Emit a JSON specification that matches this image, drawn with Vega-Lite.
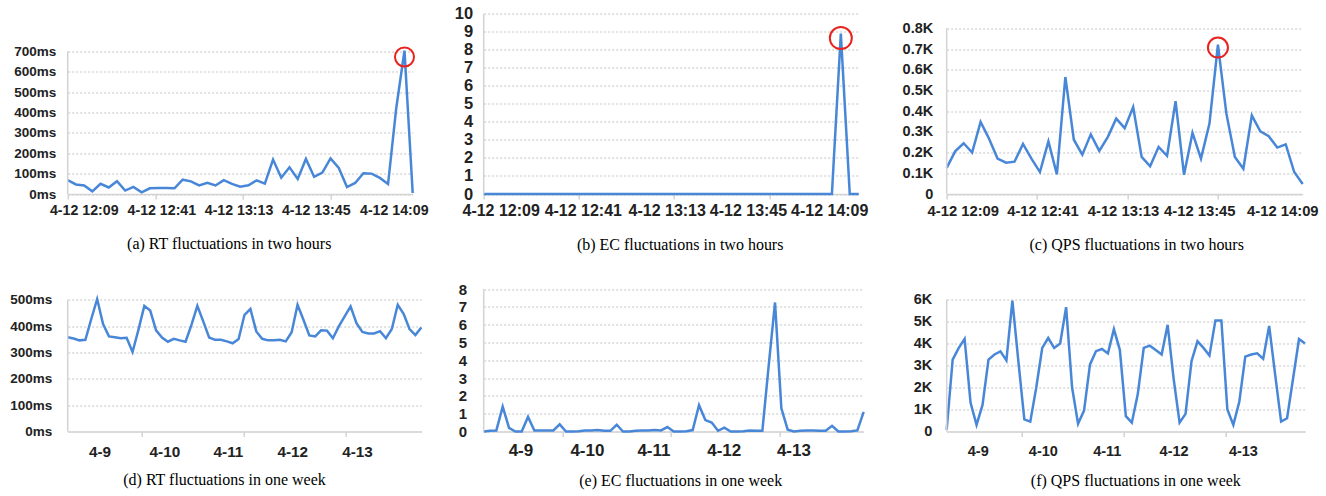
{
"$schema": "https://vega.github.io/schema/vega-lite/v6.json",
"padding": {"left": 8.7, "top": 5.5, "right": 0, "bottom": 0},
"background": "white",
"config": {
  "view": {"stroke": null},
  "axis": {"labelFont": "Liberation Sans", "labelFontWeight": "bold", "labelColor": "#222", "title": null, "tickCount": 40, "labelOverlap": false, "labelFlush": false, "gridColor": "#c4c4c4", "gridDash": [2, 2], "gridWidth": 1},
  "title": {"font": "Liberation Serif", "fontSize": 16, "fontWeight": "normal", "color": "#000", "orient": "bottom", "anchor": "middle", "frame": "group", "offset": 19}
},
"datasets": {
  "rtH": [{"i":0,"v":68},{"i":1,"v":47},{"i":2,"v":42},{"i":3,"v":13},{"i":4,"v":50},{"i":5,"v":32},{"i":6,"v":63},{"i":7,"v":17},{"i":8,"v":35},{"i":9,"v":8},{"i":10,"v":28},{"i":11,"v":30},{"i":12,"v":30},{"i":13,"v":28},{"i":14,"v":70},{"i":15,"v":62},{"i":16,"v":42},{"i":17,"v":55},{"i":18,"v":42},{"i":19,"v":68},{"i":20,"v":50},{"i":21,"v":36},{"i":22,"v":43},{"i":23,"v":67},{"i":24,"v":51},{"i":25,"v":169},{"i":26,"v":80},{"i":27,"v":131},{"i":28,"v":74},{"i":29,"v":172},{"i":30,"v":84},{"i":31,"v":105},{"i":32,"v":175},{"i":33,"v":128},{"i":34,"v":34},{"i":35,"v":54},{"i":36,"v":102},{"i":37,"v":100},{"i":38,"v":79},{"i":39,"v":49},{"i":40,"v":422},{"i":41,"v":703},{"i":42,"v":5}],
  "ecH": [{"i":0,"v":0},{"i":1,"v":0},{"i":2,"v":0},{"i":3,"v":0},{"i":4,"v":0},{"i":5,"v":0},{"i":6,"v":0},{"i":7,"v":0},{"i":8,"v":0},{"i":9,"v":0},{"i":10,"v":0},{"i":11,"v":0},{"i":12,"v":0},{"i":13,"v":0},{"i":14,"v":0},{"i":15,"v":0},{"i":16,"v":0},{"i":17,"v":0},{"i":18,"v":0},{"i":19,"v":0},{"i":20,"v":0},{"i":21,"v":0},{"i":22,"v":0},{"i":23,"v":0},{"i":24,"v":0},{"i":25,"v":0},{"i":26,"v":0},{"i":27,"v":0},{"i":28,"v":0},{"i":29,"v":0},{"i":30,"v":0},{"i":31,"v":0},{"i":32,"v":0},{"i":33,"v":0},{"i":34,"v":0},{"i":35,"v":0},{"i":36,"v":0},{"i":37,"v":0},{"i":38,"v":0},{"i":39,"v":0},{"i":40,"v":8.9},{"i":41,"v":0},{"i":42,"v":0}],
  "qpsH": [{"i":0,"v":126},{"i":1,"v":206},{"i":2,"v":245},{"i":3,"v":200},{"i":4,"v":348},{"i":5,"v":267},{"i":6,"v":171},{"i":7,"v":151},{"i":8,"v":156},{"i":9,"v":242},{"i":10,"v":171},{"i":11,"v":106},{"i":12,"v":254},{"i":13,"v":95},{"i":14,"v":565},{"i":15,"v":262},{"i":16,"v":190},{"i":17,"v":288},{"i":18,"v":208},{"i":19,"v":275},{"i":20,"v":364},{"i":21,"v":318},{"i":22,"v":420},{"i":23,"v":179},{"i":24,"v":134},{"i":25,"v":227},{"i":26,"v":184},{"i":27,"v":448},{"i":28,"v":93},{"i":29,"v":295},{"i":30,"v":171},{"i":31,"v":340},{"i":32,"v":721},{"i":33,"v":388},{"i":34,"v":179},{"i":35,"v":122},{"i":36,"v":380},{"i":37,"v":303},{"i":38,"v":279},{"i":39,"v":224},{"i":40,"v":240},{"i":41,"v":106},{"i":42,"v":48}],
  "rtW": [{"i":0,"v":358},{"i":1,"v":353},{"i":2,"v":346},{"i":3,"v":348},{"i":4,"v":427},{"i":5,"v":503},{"i":6,"v":408},{"i":7,"v":361},{"i":8,"v":358},{"i":9,"v":354},{"i":10,"v":356},{"i":11,"v":302},{"i":12,"v":386},{"i":13,"v":477},{"i":14,"v":459},{"i":15,"v":384},{"i":16,"v":357},{"i":17,"v":341},{"i":18,"v":352},{"i":19,"v":346},{"i":20,"v":341},{"i":21,"v":405},{"i":22,"v":477},{"i":23,"v":418},{"i":24,"v":357},{"i":25,"v":348},{"i":26,"v":348},{"i":27,"v":342},{"i":28,"v":335},{"i":29,"v":351},{"i":30,"v":443},{"i":31,"v":465},{"i":32,"v":380},{"i":33,"v":352},{"i":34,"v":346},{"i":35,"v":346},{"i":36,"v":348},{"i":37,"v":342},{"i":38,"v":377},{"i":39,"v":481},{"i":40,"v":424},{"i":41,"v":365},{"i":42,"v":361},{"i":43,"v":384},{"i":44,"v":383},{"i":45,"v":354},{"i":46,"v":399},{"i":47,"v":437},{"i":48,"v":475},{"i":49,"v":411},{"i":50,"v":378},{"i":51,"v":372},{"i":52,"v":372},{"i":53,"v":381},{"i":54,"v":354},{"i":55,"v":389},{"i":56,"v":481},{"i":57,"v":447},{"i":58,"v":389},{"i":59,"v":366},{"i":60,"v":395}],
  "ecW": [{"i":0,"v":0},{"i":1,"v":0.04},{"i":2,"v":0.06},{"i":3,"v":1.4},{"i":4,"v":0.2},{"i":5,"v":0},{"i":6,"v":0},{"i":7,"v":0.82},{"i":8,"v":0.06},{"i":9,"v":0.06},{"i":10,"v":0.06},{"i":11,"v":0.06},{"i":12,"v":0.4},{"i":13,"v":0},{"i":14,"v":0},{"i":15,"v":0.02},{"i":16,"v":0.06},{"i":17,"v":0.06},{"i":18,"v":0.08},{"i":19,"v":0.04},{"i":20,"v":0.04},{"i":21,"v":0.38},{"i":22,"v":0},{"i":23,"v":0},{"i":24,"v":0.04},{"i":25,"v":0.06},{"i":26,"v":0.06},{"i":27,"v":0.08},{"i":28,"v":0.06},{"i":29,"v":0.25},{"i":30,"v":0},{"i":31,"v":0},{"i":32,"v":0.02},{"i":33,"v":0.08},{"i":34,"v":1.48},{"i":35,"v":0.64},{"i":36,"v":0.5},{"i":37,"v":0.04},{"i":38,"v":0.22},{"i":39,"v":0},{"i":40,"v":0},{"i":41,"v":0.02},{"i":42,"v":0.06},{"i":43,"v":0.04},{"i":44,"v":0.04},{"i":45,"v":3.7},{"i":46,"v":7.25},{"i":47,"v":1.3},{"i":48,"v":0.1},{"i":49,"v":0},{"i":50,"v":0.04},{"i":51,"v":0.06},{"i":52,"v":0.06},{"i":53,"v":0.04},{"i":54,"v":0.04},{"i":55,"v":0.32},{"i":56,"v":0},{"i":57,"v":0},{"i":58,"v":0.02},{"i":59,"v":0.06},{"i":60,"v":1.1}],
  "qpsW": [{"i":0,"v":80},{"i":1,"v":3270},{"i":2,"v":3790},{"i":3,"v":4210},{"i":4,"v":1300},{"i":5,"v":300},{"i":6,"v":1210},{"i":7,"v":3270},{"i":8,"v":3500},{"i":9,"v":3640},{"i":10,"v":3230},{"i":11,"v":5950},{"i":12,"v":3200},{"i":13,"v":550},{"i":14,"v":450},{"i":15,"v":2000},{"i":16,"v":3800},{"i":17,"v":4250},{"i":18,"v":3800},{"i":19,"v":4000},{"i":20,"v":5650},{"i":21,"v":2000},{"i":22,"v":350},{"i":23,"v":950},{"i":24,"v":3050},{"i":25,"v":3650},{"i":26,"v":3750},{"i":27,"v":3550},{"i":28,"v":4650},{"i":29,"v":3700},{"i":30,"v":700},{"i":31,"v":400},{"i":32,"v":1700},{"i":33,"v":3800},{"i":34,"v":3900},{"i":35,"v":3700},{"i":36,"v":3500},{"i":37,"v":4850},{"i":38,"v":2400},{"i":39,"v":400},{"i":40,"v":800},{"i":41,"v":3200},{"i":42,"v":4100},{"i":43,"v":3800},{"i":44,"v":3450},{"i":45,"v":5050},{"i":46,"v":5050},{"i":47,"v":1000},{"i":48,"v":300},{"i":49,"v":1350},{"i":50,"v":3400},{"i":51,"v":3500},{"i":52,"v":3550},{"i":53,"v":3300},{"i":54,"v":4800},{"i":55,"v":2600},{"i":56,"v":450},{"i":57,"v":600},{"i":58,"v":2400},{"i":59,"v":4200},{"i":60,"v":4000}],
  "markA": [{"i":41,"v":672}],
  "markB": [{"i":40,"v":8.65}],
  "markC": [{"i":32,"v":707}]
},
"bounds": "flush",
"align": "none",
"columns": 5,
"spacing": {"row": 93, "column": 0},
"concat": [
  {
    "width": 345, "height": 181.5,
    "title": {"text": "(a) RT fluctuations in two hours", "dx": -11},
    "layer": [
      {"data": {"name": "rtH"}, "mark": {"type": "line", "color": "#4887d8", "strokeWidth": 2.5},
       "encoding": {
         "x": {"field": "i", "type": "quantitative", "scale": {"domain": [0, 42], "nice": false, "zero": false},
               "axis": {"values": [0, 10.667, 21.333, 32, 1.95, 11.4, 20.8, 30.2, 39.7],
                        "labelExpr": "datum.value == 1.95 ? '4-12 12:09' : datum.value == 11.4 ? '4-12 12:41' : datum.value == 20.8 ? '4-12 13:13' : datum.value == 30.2 ? '4-12 13:45' : datum.value == 39.7 ? '4-12 14:09' : ''",
                        "tickOpacity": {"condition": {"test": "datum.value == 0 || datum.value == 10.667 || datum.value == 21.333 || datum.value == 32", "value": 1}, "value": 0},
                        "grid": false, "domainColor": "#d3d3d3", "domainWidth": 1.5, "tickColor": "#d3d3d3", "tickWidth": 1.5, "tickSize": 5, "labelPadding": 4, "labelFontSize": 14.2}},
         "y": {"field": "v", "type": "quantitative", "scale": {"domain": [0, 890.3], "nice": false},
               "axis": {"values": [0, 100, 200, 300, 400, 500, 600, 700], "labelExpr": "datum.value + 'ms'", "domain": false, "ticks": false, "grid": true, "labelPadding": 12, "labelFontSize": 13.5}}
       }},
      {"data": {"values": [{}]}, "mark": {"type": "rule", "color": "#d3d3d3", "strokeWidth": 1.5},
       "encoding": {"x": {"datum": 0, "type": "quantitative"}, "y": {"datum": 0, "type": "quantitative"}, "y2": {"datum": 700}}},
      {"data": {"name": "markA"}, "mark": {"type": "point", "shape": "circle", "filled": false, "color": "#e8231d", "strokeWidth": 2, "size": 361, "opacity": 1},
       "encoding": {"x": {"field": "i", "type": "quantitative"}, "y": {"field": "v", "type": "quantitative"}}}
    ]
  },
  {"width": 61.6, "height": 1, "data": {"values": [{}]}, "mark": {"type": "point", "opacity": 0}, "encoding": {}},
  {
    "width": 375, "height": 181.5,
    "title": {"text": "(b) EC fluctuations in two hours", "dx": 9},
    "layer": [
      {"data": {"name": "ecH"}, "mark": {"type": "line", "color": "#4887d8", "strokeWidth": 2.5},
       "encoding": {
         "x": {"field": "i", "type": "quantitative", "scale": {"domain": [0, 42], "nice": false, "zero": false},
               "axis": {"values": [0, 10.667, 21.333, 32, 1.9, 11.1, 20.5, 29.6, 38.7],
                        "labelExpr": "datum.value == 1.9 ? '4-12 12:09' : datum.value == 11.1 ? '4-12 12:41' : datum.value == 20.5 ? '4-12 13:13' : datum.value == 29.6 ? '4-12 13:45' : datum.value == 38.7 ? '4-12 14:09' : ''",
                        "tickOpacity": {"condition": {"test": "datum.value == 0 || datum.value == 10.667 || datum.value == 21.333 || datum.value == 32", "value": 1}, "value": 0},
                        "grid": false, "domainColor": "#d3d3d3", "domainWidth": 1.5, "tickColor": "#d3d3d3", "tickWidth": 1.5, "tickSize": 5, "labelPadding": 3, "labelFontSize": 16}},
         "y": {"field": "v", "type": "quantitative", "scale": {"domain": [0, 10.07], "nice": false},
               "axis": {"values": [0, 1, 2, 3, 4, 5, 6, 7, 8, 9, 10], "format": "d", "domain": false, "ticks": false, "grid": true, "labelPadding": 11, "labelFontSize": 16.5}}
       }},
      {"data": {"values": [{}]}, "mark": {"type": "rule", "color": "#d3d3d3", "strokeWidth": 1.5},
       "encoding": {"x": {"datum": 0, "type": "quantitative"}, "y": {"datum": 0, "type": "quantitative"}, "y2": {"datum": 10}}},
      {"data": {"name": "markB"}, "mark": {"type": "point", "shape": "circle", "filled": false, "color": "#e8231d", "strokeWidth": 2, "size": 484, "opacity": 1},
       "encoding": {"x": {"field": "i", "type": "quantitative"}, "y": {"field": "v", "type": "quantitative"}}}
    ]
  },
  {"width": 73, "height": 1, "data": {"values": [{}]}, "mark": {"type": "point", "opacity": 0}, "encoding": {}},
  {
    "width": 356, "height": 181.5,
    "title": {"text": "(c) QPS fluctuations in two hours", "dx": 12},
    "layer": [
      {"data": {"name": "qpsH"}, "mark": {"type": "line", "color": "#4887d8", "strokeWidth": 2.5},
       "encoding": {
         "x": {"field": "i", "type": "quantitative", "scale": {"domain": [0, 42], "nice": false, "zero": false},
               "axis": {"values": [0, 10.667, 21.333, 32, 1.9, 11.3, 20.8, 29.8, 39.6],
                        "labelExpr": "datum.value == 1.9 ? '4-12 12:09' : datum.value == 11.3 ? '4-12 12:41' : datum.value == 20.8 ? '4-12 13:13' : datum.value == 29.8 ? '4-12 13:45' : datum.value == 39.6 ? '4-12 14:09' : ''",
                        "tickOpacity": {"condition": {"test": "datum.value == 0 || datum.value == 10.667 || datum.value == 21.333 || datum.value == 32", "value": 1}, "value": 0},
                        "grid": false, "domainColor": "#d3d3d3", "domainWidth": 1.5, "tickColor": "#d3d3d3", "tickWidth": 1.5, "tickSize": 5, "labelPadding": 4, "labelFontSize": 14.8}},
         "y": {"field": "v", "type": "quantitative", "scale": {"domain": [0, 876.4], "nice": false},
               "axis": {"values": [0, 100, 200, 300, 400, 500, 600, 700, 800], "labelExpr": "datum.value == 0 ? '0' : format(datum.value / 1000, '.1f') + 'K'", "domain": false, "ticks": false, "grid": true, "labelPadding": 14, "labelFontSize": 14.5}}
       }},
      {"data": {"values": [{}]}, "mark": {"type": "rule", "color": "#d3d3d3", "strokeWidth": 1.5},
       "encoding": {"x": {"datum": 0, "type": "quantitative"}, "y": {"datum": 0, "type": "quantitative"}, "y2": {"datum": 800}}},
      {"data": {"name": "markC"}, "mark": {"type": "point", "shape": "circle", "filled": false, "color": "#e8231d", "strokeWidth": 2, "size": 400, "opacity": 1},
       "encoding": {"x": {"field": "i", "type": "quantitative"}, "y": {"field": "v", "type": "quantitative"}}}
    ]
  },
  {
    "width": 353.6, "height": 144,
    "title": {"text": "(d) RT fluctuations in one week", "dx": -20, "offset": 12},
    "layer": [
      {"data": {"name": "rtW"}, "mark": {"type": "line", "color": "#4887d8", "strokeWidth": 2.5},
       "encoding": {
         "x": {"field": "i", "type": "quantitative", "scale": {"domain": [0, 60], "nice": false, "zero": false},
               "axis": {"values": [12.6, 29.8, 47.1, 5.4, 16.4, 27.2, 38.1, 49.1],
                        "labelExpr": "datum.value == 5.4 ? '4-9' : datum.value == 16.4 ? '4-10' : datum.value == 27.2 ? '4-11' : datum.value == 38.1 ? '4-12' : datum.value == 49.1 ? '4-13' : ''",
                        "tickOpacity": {"condition": {"test": "datum.value == 12.6 || datum.value == 29.8 || datum.value == 47.1", "value": 1}, "value": 0},
                        "grid": false, "domainColor": "#d3d3d3", "domainWidth": 1.5, "tickColor": "#d3d3d3", "tickWidth": 1.5, "tickSize": 5, "labelPadding": 8, "labelFontSize": 15.3}},
         "y": {"field": "v", "type": "quantitative", "scale": {"domain": [0, 546.7], "nice": false},
               "axis": {"values": [0, 100, 200, 300, 400, 500], "labelExpr": "datum.value + 'ms'", "domain": false, "ticks": false, "grid": true, "labelPadding": 16, "labelFontSize": 13.5}}
       }},
      {"data": {"values": [{}]}, "mark": {"type": "rule", "color": "#d3d3d3", "strokeWidth": 1.5},
       "encoding": {"x": {"datum": 0, "type": "quantitative"}, "y": {"datum": 0, "type": "quantitative"}, "y2": {"datum": 500}}}
    ]
  },
  {"width": 47.5, "height": 1, "data": {"values": [{}]}, "mark": {"type": "point", "opacity": 0}, "encoding": {}},
  {
    "width": 380, "height": 144,
    "title": {"text": "(e) EC fluctuations in one week", "dx": 7, "offset": 14},
    "layer": [
      {"data": {"name": "ecW"}, "mark": {"type": "line", "color": "#4887d8", "strokeWidth": 2.5},
       "encoding": {
         "x": {"field": "i", "type": "quantitative", "scale": {"domain": [0, 60], "nice": false, "zero": false},
               "axis": {"values": [12.5, 29.6, 46.7, 5.8, 16.3, 26.8, 37.9, 48.9],
                        "labelExpr": "datum.value == 5.8 ? '4-9' : datum.value == 16.3 ? '4-10' : datum.value == 26.8 ? '4-11' : datum.value == 37.9 ? '4-12' : datum.value == 48.9 ? '4-13' : ''",
                        "tickOpacity": {"condition": {"test": "datum.value == 12.5 || datum.value == 29.6 || datum.value == 46.7", "value": 1}, "value": 0},
                        "grid": false, "domainColor": "#d3d3d3", "domainWidth": 1.5, "tickColor": "#d3d3d3", "tickWidth": 1.5, "tickSize": 5, "labelPadding": 6.5, "labelFontSize": 17}},
         "y": {"field": "v", "type": "quantitative", "scale": {"domain": [0, 8.09], "nice": false},
               "axis": {"values": [0, 1, 2, 3, 4, 5, 6, 7, 8], "format": "d", "domain": false, "ticks": false, "grid": true, "labelPadding": 17, "labelFontSize": 15}}
       }},
      {"data": {"values": [{}]}, "mark": {"type": "rule", "color": "#d3d3d3", "strokeWidth": 1.5},
       "encoding": {"x": {"datum": 0, "type": "quantitative"}, "y": {"datum": 0, "type": "quantitative"}, "y2": {"datum": 8}}}
    ]
  },
  {"width": 82.4, "height": 1, "data": {"values": [{}]}, "mark": {"type": "point", "opacity": 0}, "encoding": {}},
  {
    "width": 358.3, "height": 144,
    "title": {"text": "(f) QPS fluctuations in one week", "dx": 10, "offset": 15},
    "layer": [
      {"data": {"name": "qpsW"}, "mark": {"type": "line", "color": "#4887d8", "strokeWidth": 2.5},
       "encoding": {
         "x": {"field": "i", "type": "quantitative", "scale": {"domain": [0, 60], "nice": false, "zero": false},
               "axis": {"values": [12.6, 29.7, 46.8, 5.2, 16.1, 26.8, 38, 49.6],
                        "labelExpr": "datum.value == 5.2 ? '4-9' : datum.value == 16.1 ? '4-10' : datum.value == 26.8 ? '4-11' : datum.value == 38 ? '4-12' : datum.value == 49.6 ? '4-13' : ''",
                        "tickOpacity": {"condition": {"test": "datum.value == 12.6 || datum.value == 29.7 || datum.value == 46.8", "value": 1}, "value": 0},
                        "grid": false, "domainColor": "#d3d3d3", "domainWidth": 1.5, "tickColor": "#d3d3d3", "tickWidth": 1.5, "tickSize": 5, "labelPadding": 8.5, "labelFontSize": 14.5}},
         "y": {"field": "v", "type": "quantitative", "scale": {"domain": [0, 6545], "nice": false},
               "axis": {"values": [0, 1000, 2000, 3000, 4000, 5000, 6000], "labelExpr": "datum.value == 0 ? '0' : (datum.value / 1000) + 'K'", "domain": false, "ticks": false, "grid": true, "labelPadding": 15, "labelFontSize": 14.5}}
       }},
      {"data": {"values": [{}]}, "mark": {"type": "rule", "color": "#d3d3d3", "strokeWidth": 1.5},
       "encoding": {"x": {"datum": 0, "type": "quantitative"}, "y": {"datum": 0, "type": "quantitative"}, "y2": {"datum": 6000}}}
    ]
  }
]
}
